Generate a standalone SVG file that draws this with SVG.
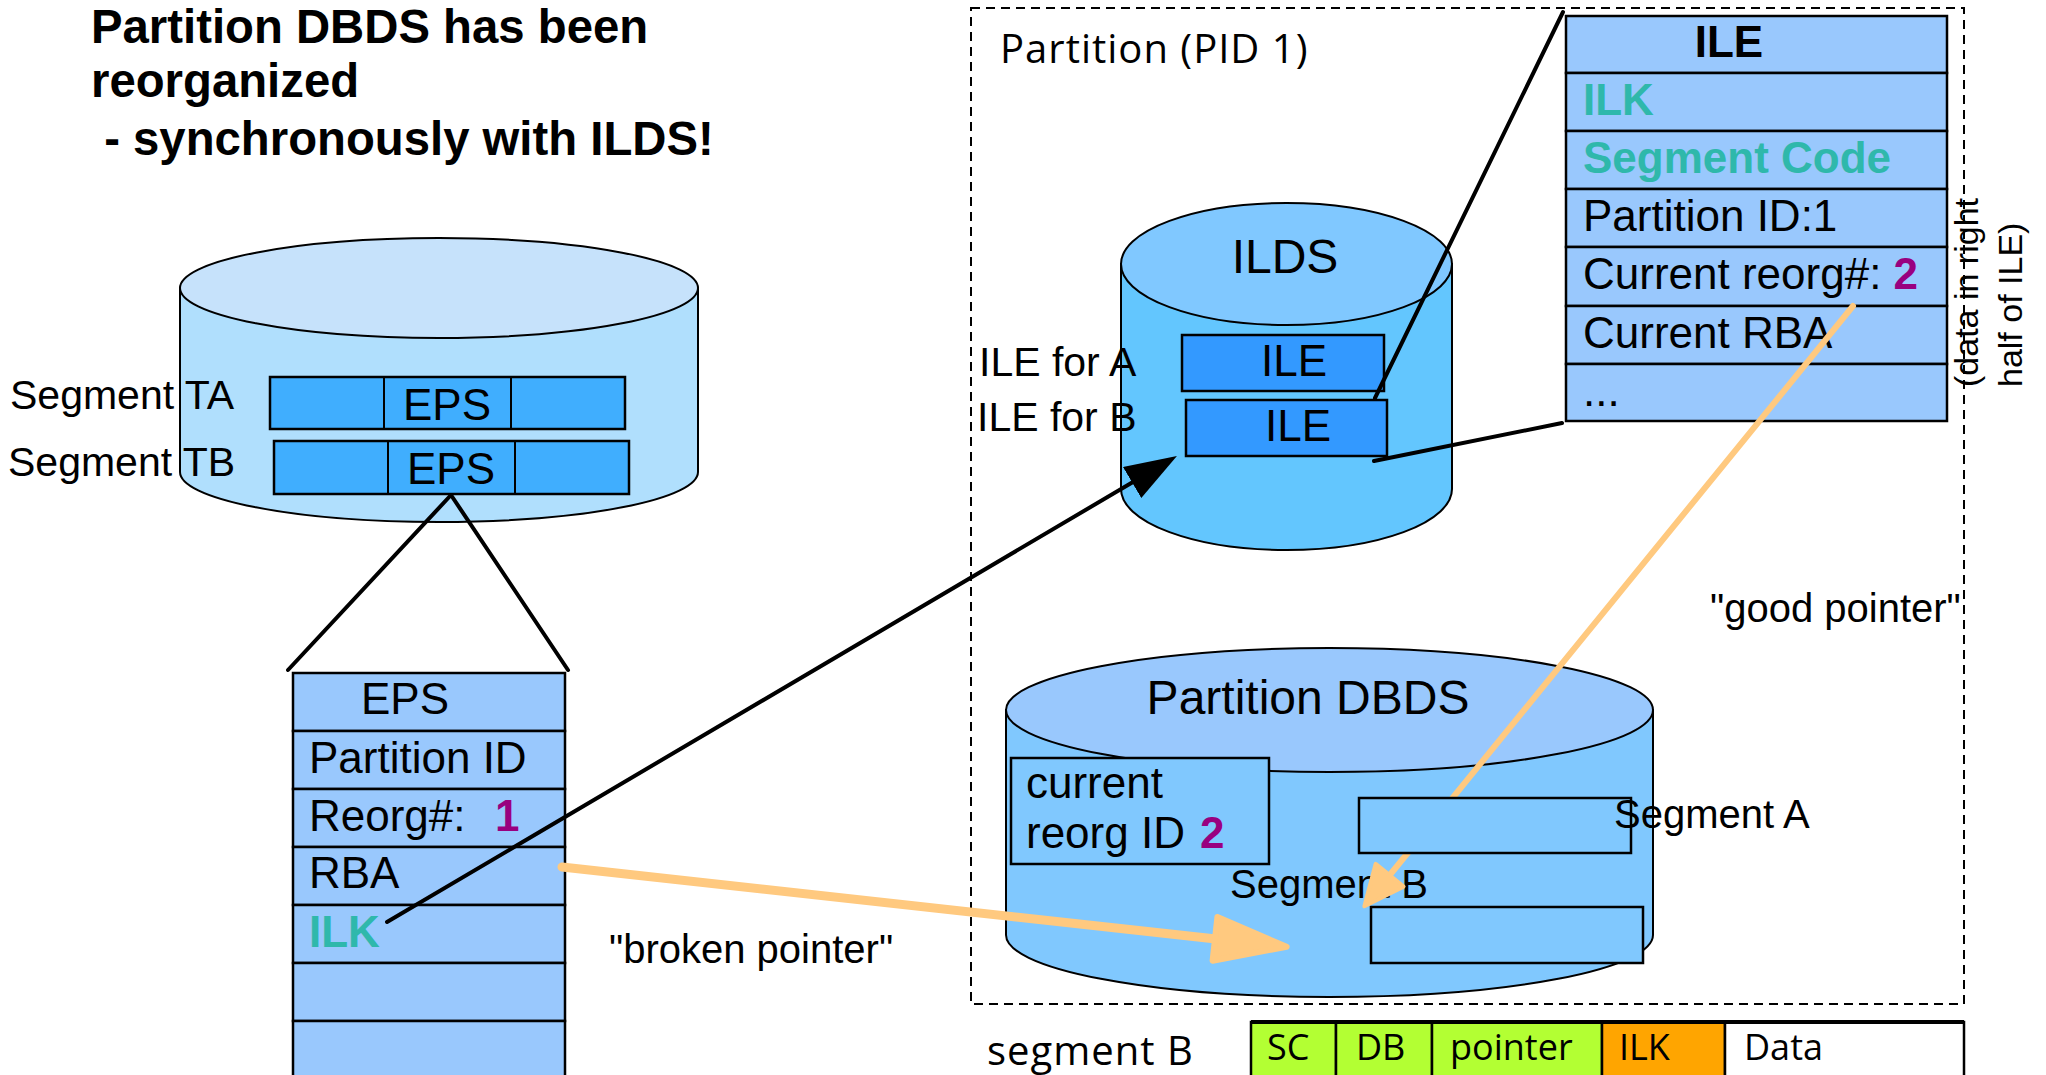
<svg xmlns="http://www.w3.org/2000/svg" width="2046" height="1075" viewBox="0 0 2046 1075">
<style>
text{font-family:"Liberation Sans",Arial,sans-serif;fill:#000}
.t{font-size:44px}
.big{font-size:48px}
.s{font-size:41px}
.lb{font-size:40px}
.b{font-weight:bold}
.teal{fill:#2FB8AB;font-weight:bold}
.pur{fill:#990080;font-weight:bold}
.os{font-family:"Open Sans","Noto Sans",sans-serif;font-size:40px;letter-spacing:1px}
.bar{font-family:"Open Sans","Noto Sans",sans-serif;font-size:36px}
.ln{stroke:#000;stroke-width:2;}
.row{fill:#99C8FD;stroke:#000;stroke-width:2.5}
.seg{fill:#40AEFE;stroke:#000;stroke-width:2.5}
.ile{fill:#3399FF;stroke:#000;stroke-width:2.5}
.blk{stroke:#000;stroke-width:4;fill:none;stroke-linecap:round}
.org{stroke:#FFC97F;fill:none;stroke-linecap:round}
</style>
<defs>
<marker id="ahBlack" markerUnits="userSpaceOnUse" viewBox="0 0 52 36" refX="1" refY="18" markerWidth="52" markerHeight="36" orient="auto">
<path d="M0,0 L52,18 L0,36 z" fill="#000"/>
</marker>
<marker id="ahOrgBig" markerUnits="userSpaceOnUse" viewBox="-4 -4 80 52" refX="1" refY="22" markerWidth="80" markerHeight="52" orient="auto">
<path d="M0,0 L72,22 L0,44 z" fill="#FFC97F" stroke="#FFC97F" stroke-width="6" stroke-linejoin="round"/>
</marker>
<marker id="ahOrgSmall" markerUnits="userSpaceOnUse" viewBox="-3 -3 46 42" refX="1" refY="18" markerWidth="46" markerHeight="42" orient="auto">
<path d="M0,0 L40,18 L0,36 z" fill="#FFC97F" stroke="#FFC97F" stroke-width="4" stroke-linejoin="round"/>
</marker>
</defs>
<rect width="2046" height="1075" fill="#fff"/>

<g id="title" class="b" font-size="47.3">
<text x="91" y="43">Partition DBDS has been</text>
<text x="91" y="97">reorganized</text>
<text x="91" y="155" xml:space="preserve"> - synchronously with ILDS!</text>
</g>

<g id="partition-box">
<rect x="971" y="8" width="993" height="996" fill="none" stroke="#000" stroke-width="2" stroke-dasharray="9 6"/>
<text class="os" x="1000" y="63">Partition (PID 1)</text>
</g>

<g id="left-cylinder">
<path d="M180,288 L180,472 A259,50 0 0 0 698,472 L698,288 Z" fill="#B0DFFD" class="ln"/>
<ellipse cx="439" cy="288" rx="259" ry="50" fill="#C6E2FB" class="ln"/>
</g>

<g id="segment-ta">
<rect class="seg" x="270" y="377" width="355" height="52"/>
<line class="ln" x1="384" y1="377" x2="384" y2="429"/>
<line class="ln" x1="511" y1="377" x2="511" y2="429"/>
<text class="t" x="447" y="420" text-anchor="middle">EPS</text>
<text class="s" x="10" y="409">Segment TA</text>
</g>

<g id="segment-tb">
<rect class="seg" x="274" y="441" width="355" height="53"/>
<line class="ln" x1="388" y1="441" x2="388" y2="494"/>
<line class="ln" x1="515" y1="441" x2="515" y2="494"/>
<text class="t" x="451" y="484" text-anchor="middle">EPS</text>
<text class="s" x="8" y="476">Segment TB</text>
</g>

<g id="eps-table">
<rect class="row" x="293" y="673" width="272" height="58"/>
<rect class="row" x="293" y="731" width="272" height="58"/>
<rect class="row" x="293" y="789" width="272" height="58"/>
<rect class="row" x="293" y="847" width="272" height="58"/>
<rect class="row" x="293" y="905" width="272" height="58"/>
<rect class="row" x="293" y="963" width="272" height="58"/>
<rect class="row" x="293" y="1021" width="272" height="70"/>
<text class="t" x="361" y="714">EPS</text>
<text class="t" x="309" y="773">Partition ID</text>
<text class="t" x="309" y="831">Reorg#:<tspan class="pur" x="495">1</tspan></text>
<text class="t" x="309" y="888">RBA</text>
<text class="t teal" x="309" y="947">ILK</text>
</g>

<g id="ilds">
<path d="M1121,264 L1121,489 A165.5,61 0 0 0 1452,489 L1452,264 Z" fill="#63C6FE" class="ln"/>
<ellipse cx="1286.5" cy="264" rx="165.5" ry="61" fill="#80C8FF" class="ln"/>
<text class="big" x="1285" y="273" text-anchor="middle">ILDS</text>
<rect class="ile" x="1182" y="335" width="202" height="56"/>
<text class="t" x="1294" y="376" text-anchor="middle">ILE</text>
<rect class="ile" x="1186" y="400" width="201" height="56"/>
<text class="t" x="1298" y="441" text-anchor="middle">ILE</text>
<text class="s" x="979" y="376">ILE for A</text>
<text class="s" x="977" y="431">ILE for B</text>
</g>

<g id="ile-table">
<rect class="row" x="1566" y="16" width="381" height="57"/>
<rect class="row" x="1566" y="73" width="381" height="58"/>
<rect class="row" x="1566" y="131" width="381" height="58"/>
<rect class="row" x="1566" y="189" width="381" height="58"/>
<rect class="row" x="1566" y="247" width="381" height="59"/>
<rect class="row" x="1566" y="306" width="381" height="58"/>
<rect class="row" x="1566" y="364" width="381" height="57"/>
<text class="t b" x="1729" y="57" text-anchor="middle">ILE</text>
<text class="t teal" x="1583" y="115">ILK</text>
<text class="t teal" x="1583" y="173">Segment Code</text>
<text class="t" x="1583" y="231">Partition ID:1</text>
<text class="t" x="1583" y="289">Current reorg#: <tspan class="pur">2</tspan></text>
<text class="t" x="1583" y="348">Current RBA</text>
<text class="t" x="1583" y="406">...</text>
<text font-size="34" transform="translate(1978,387) rotate(-90)">(data in right</text>
<text font-size="34" transform="translate(2022,387) rotate(-90)">half of ILE)</text>
</g>

<g id="dbds">
<path d="M1006,710 L1006,935 A323.5,62 0 0 0 1653,935 L1653,710 Z" fill="#80C8FE" class="ln"/>
<ellipse cx="1329.5" cy="710" rx="323.5" ry="62" fill="#99C8FD" class="ln"/>
<text class="big" x="1308" y="714" text-anchor="middle">Partition DBDS</text>
<rect x="1011" y="758" width="258" height="106" fill="#80C8FE" stroke="#000" stroke-width="2.5"/>
<text class="t" x="1026" y="798">current</text>
<text class="t" x="1026" y="848">reorg ID <tspan class="pur" x="1200">2</tspan></text>
<rect x="1371" y="907" width="272" height="56" fill="#80C8FE" stroke="#000" stroke-width="2.5"/>
<text class="lb" x="1230" y="898">Segment B</text>
</g>

<g id="labels">
<text class="lb" x="609" y="963">"broken pointer"</text>
<text class="lb" x="1710" y="622">"good pointer"</text>
</g>

<g id="connectors">
<line class="blk" x1="451" y1="495" x2="288" y2="670"/>
<line class="blk" x1="451" y1="495" x2="568" y2="670"/>
<line class="blk" x1="1375" y1="398" x2="1563" y2="12"/>
<line class="blk" x1="1374" y1="461" x2="1562" y2="423"/>
<line class="blk" x1="387" y1="922" x2="1133" y2="482" marker-end="url(#ahBlack)"/>
<line class="org" stroke-width="9" x1="562" y1="867" x2="1216" y2="939" marker-end="url(#ahOrgBig)"/>
<line class="org" stroke-width="6" x1="1853" y1="306" x2="1389" y2="876" marker-end="url(#ahOrgSmall)"/>
</g>

<g id="segment-a">
<rect x="1359" y="798" width="272" height="55" fill="#80C8FE" stroke="#000" stroke-width="2.5"/>
<text class="lb" x="1614" y="828">Segment A</text>
</g>

<g id="segment-b-layout">
<text class="os" x="987" y="1065">segment B</text>
<rect x="1251" y="1022" width="85" height="70" fill="#B3FF33" stroke="#000" stroke-width="2.5"/>
<rect x="1336" y="1022" width="96" height="70" fill="#B3FF33" stroke="#000" stroke-width="2.5"/>
<rect x="1432" y="1022" width="170" height="70" fill="#B3FF33" stroke="#000" stroke-width="2.5"/>
<rect x="1602" y="1022" width="123" height="70" fill="#FFA500" stroke="#000" stroke-width="2.5"/>
<rect x="1725" y="1022" width="239" height="70" fill="#FFFFFF" stroke="#000" stroke-width="2.5"/>
<line x1="1251" y1="1022" x2="1964" y2="1022" stroke="#000" stroke-width="4"/>
<text class="bar" x="1267" y="1060">SC</text>
<text class="bar" x="1356" y="1060">DB</text>
<text class="bar" x="1450" y="1060">pointer</text>
<text class="bar" x="1619" y="1060">ILK</text>
<text class="bar" x="1744" y="1060">Data</text>
</g>
</svg>
